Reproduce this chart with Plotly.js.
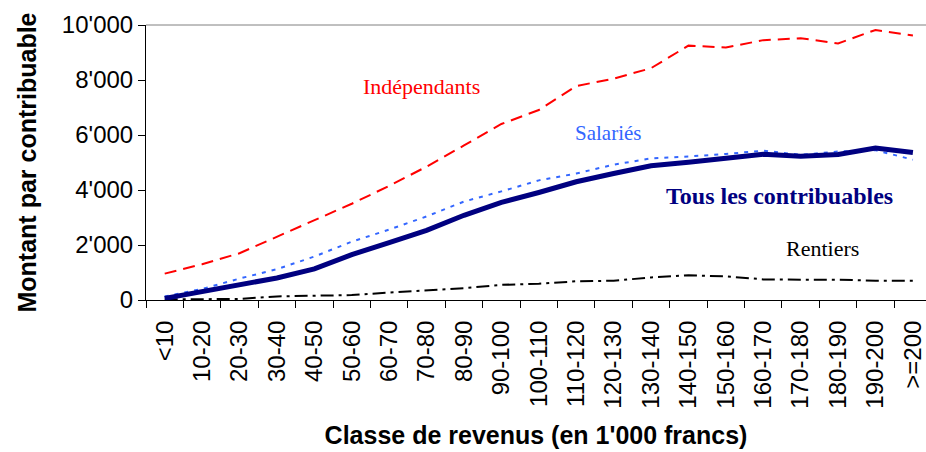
<!DOCTYPE html>
<html>
<head>
<meta charset="utf-8">
<script src="https://cdn.plot.ly/plotly-3.0.1.min.js"></script>
<style>
  html, body { margin: 0; padding: 0; background: #fff; }
  #chart { width: 926px; height: 452px; }
</style>
</head>
<body>
<div id="chart"></div>
<script>
// Income classes (in 1'000 francs)
const classes = ['<10', '10-20', '20-30', '30-40', '40-50', '50-60', '60-70', '70-80', '80-90',
  '90-100', '100-110', '110-120', '120-130', '130-140', '140-150', '150-160', '160-170',
  '170-180', '180-190', '190-200', '>=200'];

// Amount per taxpayer
const independants = [960, 1300, 1700, 2300, 2900, 3500, 4150, 4850, 5620, 6400, 6910, 7780,
  8050, 8430, 9250, 9180, 9450, 9520, 9330, 9820, 9620];
const salaries = [130, 400, 780, 1120, 1580, 2120, 2560, 3040, 3580, 3950, 4350, 4600, 4920,
  5150, 5220, 5310, 5430, 5280, 5400, 5450, 5100];
const tous = [60, 310, 520, 800, 1130, 1650, 2090, 2530, 3080, 3550, 3910, 4300, 4600, 4880,
  5010, 5150, 5300, 5230, 5290, 5530, 5360];
const rentiers = [20, 20, 40, 130, 145, 180, 270, 350, 430, 550, 590, 680, 700, 820, 900, 860,
  750, 740, 740, 700, 700];

const traces = [
  {
    x: classes, y: independants, mode: 'lines', name: 'Indépendants',
    line: {color: '#ff0000', width: 2, dash: '12px,7px'}
  },
  {
    x: classes, y: salaries, mode: 'lines', name: 'Salariés',
    line: {color: '#3366ff', width: 2, dash: '4px,6px'}
  },
  {
    x: classes, y: rentiers, mode: 'lines', name: 'Rentiers',
    line: {color: '#000000', width: 2, dash: '13px,5px,3px,5px'}
  },
  {
    x: classes, y: tous, mode: 'lines', name: 'Tous les contribuables',
    line: {color: '#000080', width: 5}
  }
];

const serif = '"Liberation Serif", "Times New Roman", serif';

// label helper: centred text in paper coordinates
function label(text, x, y, size, color) {
  return {text: text, xref: 'paper', yref: 'paper', x: x, y: y,
    xanchor: 'center', yanchor: 'middle', showarrow: false,
    font: {family: serif, size: size, color: color}};
}

const layout = {
  width: 926, height: 452,
  margin: {l: 146, r: 0, t: 25, b: 152},
  paper_bgcolor: '#fff', plot_bgcolor: '#fff',
  showlegend: false,
  separators: ".'",
  font: {family: '"Liberation Sans", Arial, sans-serif', color: '#000'},
  xaxis: {
    type: 'category',
    range: [-0.5, 20.35],
    tickson: 'boundaries',
    ticks: 'outside', ticklen: 7, tickcolor: '#000',
    tickangle: -90,
    ticklabelstandoff: 10,
    tickfont: {size: 24},
    showline: true, linecolor: '#000', linewidth: 1,
    showgrid: false, zeroline: false,
    title: {text: '<b>Classe de revenus (en 1\'000 francs)</b>', font: {size: 25}, standoff: 18}
  },
  yaxis: {
    range: [0, 10000],
    tickvals: [0, 2000, 4000, 6000, 8000, 10000],
    tickformat: ',',
    ticks: 'outside', ticklen: 7, tickcolor: '#000',
    tickfont: {size: 24},
    showline: true, linecolor: '#000', linewidth: 1,
    showgrid: false, zeroline: false,
    title: {text: '<b>Montant par contribuable</b>', font: {size: 25}, standoff: 18}
  },
  shapes: [
    {type: 'line', xref: 'paper', yref: 'paper', x0: 0, x1: 1, y0: 1, y1: 1,
     line: {color: '#808080', width: 1}}
  ],
  annotations: [
    label('Indépendants', 0.3526, 0.778, 22, '#ff0000'),
    label('Salariés', 0.592, 0.607, 21, '#3366ff'),
    label('<b>Tous les contribuables</b>', 0.8128, 0.378, 24, '#000080'),
    label('Rentiers', 0.8667, 0.189, 22, '#000000')
  ]
};

Plotly.newPlot('chart', traces, layout, {displayModeBar: false, staticPlot: true});
</script>
</body>
</html>
